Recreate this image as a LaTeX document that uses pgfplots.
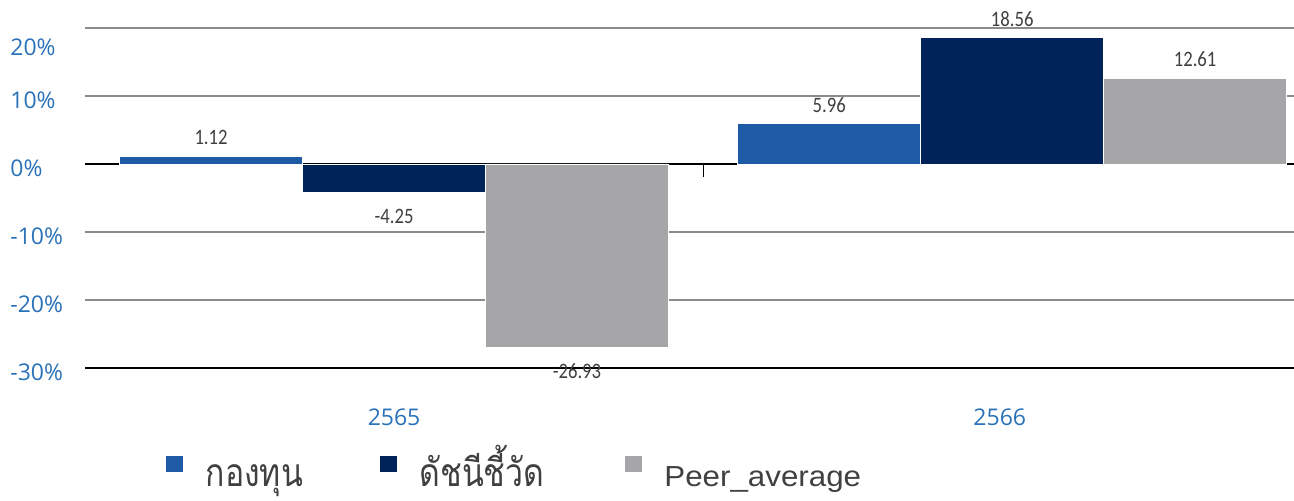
\documentclass[border=0pt]{standalone}
\usepackage{pgfplots}
\pgfplotsset{compat=1.18}
\usepackage{fontspec}
\setmainfont{Open Sans}
\newfontfamily\lblfont[FakeStretch=0.85]{Carlito}
\newfontfamily\legfont[FakeStretch=1.08]{Liberation Sans}
\newfontfamily\thaifont[Script=Thai, FakeStretch=0.82]{Loma}

\definecolor{fundblue}{RGB}{31,90,166}
\definecolor{navy}{RGB}{0,36,89}
\definecolor{peergray}{RGB}{166,166,168}
\definecolor{ticktext}{RGB}{41,113,184}
\definecolor{labeltext}{RGB}{64,64,64}
\definecolor{gridgray}{RGB}{140,140,140}

\begin{document}
\begin{tikzpicture}
\useasboundingbox (0,0) rectangle (647pt,250pt);
\begin{axis}[%
at={(42.5pt,66pt)},
anchor=south west,
width=604.5pt,
height=184pt,
scale only axis,
xmin=-0.5,
xmax=1.456,
ymin=-30,
ymax=24.1,
axis line style={draw=none},
xtick={0,0.98},
xticklabels={2565,2566},
major tick length=0pt,
xticklabel style={font=\fontsize{11.5}{13}\selectfont, text=ticktext, inner sep=0pt, yshift=-20pt},
ytick={-30,-20,-10,0,10},
yticklabels={-30\%,-20\%,-10\%,0\%,10\%},
extra y ticks={20},
extra y tick labels={20\%},
extra y tick style={grid=major, yticklabel style={yshift=-7.5pt}},
yticklabel style={font=\fontsize{11.5}{13}\selectfont, text=ticktext, anchor=west, inner sep=0pt, xshift=-37.5pt, yshift=-2pt},
ymajorgrids,
major grid style={gridgray, line width=1.3pt},
ybar,
bar width=0.296,
point meta=y,
nodes near coords={\pgfmathprintnumber[fixed,fixed zerofill,precision=2,assume math mode=true]{\pgfplotspointmeta}},
nodes near coords align=vertical,
every node near coord/.append style={font=\lblfont\fontsize{11}{13}\selectfont, text=labeltext,
  inner sep=5.5pt, text height=9.8pt, text depth=0pt},
legend columns=3,
legend style={draw=none, fill=none, inner sep=0pt, outer sep=0pt,
  at={(axis description cs:0,0)}, anchor=north west,
  xshift=40pt, yshift=-43.5pt,
  font=\legfont\fontsize{14.5}{16}\selectfont, text=labeltext,
  nodes={inner sep=0pt, text height=12pt, text depth=4pt, anchor=base west},
  /tikz/every odd column/.append style={column sep=11pt},
  /tikz/every even column/.append style={column sep=0pt}},
sq/.style={legend image code/.code={\fill[##1] (0pt,7pt) rectangle (9pt,15.5pt);}},
]
\draw[black, line width=0.6pt] (axis cs:-0.5,0) -- (axis cs:1.456,0);
\draw[black, line width=0.6pt] (axis cs:0.5,0) -- (axis cs:0.5,-1.9);
\draw[black, line width=1pt] (axis cs:-0.5,-30) -- (axis cs:1.456,-30);

\addplot[fill=fundblue, draw=white, line width=0.4pt, bar shift=-0.296, sq] coordinates {
(0,1.12)
(1,5.96)
};
\addlegendentry{\makebox[86.5pt][l]{\thaifont\fontsize{19.5}{20}\selectfont กองทุน}}

\addplot[fill=navy, draw=white, line width=0.4pt, bar shift=0, sq] coordinates {
(0,-4.25)
(1,18.56)
};
\addlegendentry{\makebox[102pt][l]{\thaifont\fontsize{19.5}{20}\selectfont ดัชนีชี้วัด}}

\addplot[fill=peergray, draw=white, line width=0.4pt, bar shift=0.296, sq] coordinates {
(0,-26.93)
(1,12.61)
};
\addlegendentry{Peer\_average}

\end{axis}
\end{tikzpicture}
\end{document}
